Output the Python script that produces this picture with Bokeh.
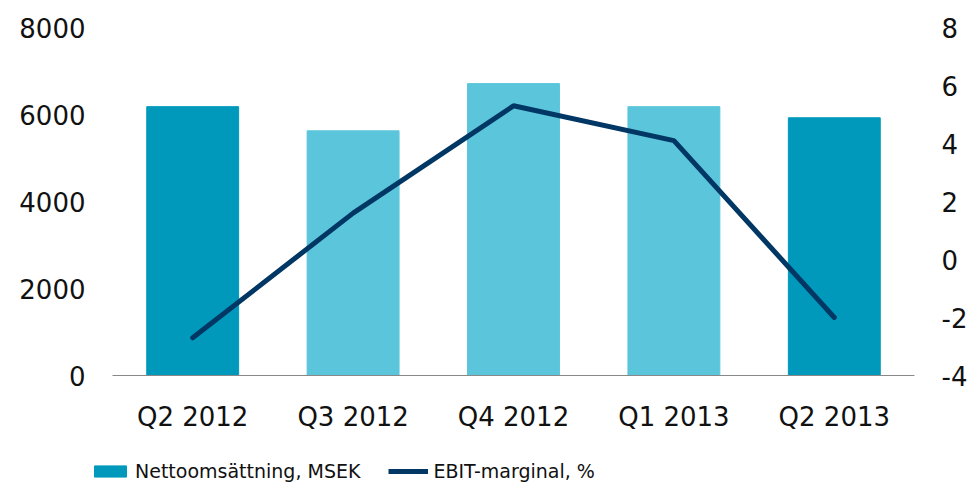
from bokeh.plotting import figure
from bokeh.models import (ColumnDataSource, Range1d, LinearAxis, FixedTicker,
                          Legend, LegendItem)
from bokeh.layouts import column, row
from bokeh.embed import file_html
from bokeh.resources import INLINE

quarters = ["Q2 2012", "Q3 2012", "Q4 2012", "Q1 2013", "Q2 2013"]
net_sales = [6180, 5625, 6710, 6180, 5925]
ebit_margin = [-2.7, 1.6, 5.3, 4.1, -2.0]
bar_colors = ["#0099bb", "#5bc5db", "#5bc5db", "#5bc5db", "#0099bb"]
left_ticks = [0, 2000, 4000, 6000, 8000]
right_ticks = [-4, -2, 0, 2, 4, 6, 8]
series_names = ["Nettoomsättning, MSEK", "EBIT-marginal, %"]

FONT = "DejaVu Sans"
BAR_DARK = "#0099bb"
LINE_COLOR = "#003764"
src = ColumnDataSource(dict(q=quarters, sales=net_sales, ebit=ebit_margin, color=bar_colors))

p = figure(x_range=quarters, y_range=Range1d(0, 8000), width=970, height=440,
           output_backend="svg", toolbar_location=None,
           min_border_left=112, min_border_right=55, min_border_top=27,
           min_border_bottom=65)
p.extra_y_ranges = {"pct": Range1d(-4, 8)}
p.outline_line_color = None
p.background_fill_color = "white"
p.border_fill_color = "white"
p.xgrid.grid_line_color = None
p.ygrid.grid_line_color = None
p.x_range.range_padding = 0

p.vbar(x="q", top="sales", width=0.573, color="color", source=src)
p.line(x="q", y="ebit", y_range_name="pct", line_color=LINE_COLOR,
       line_width=5, line_cap="round", source=src)

def style_axis(ax, standoff):
    ax.major_tick_line_color = None
    ax.minor_tick_line_color = None
    ax.major_tick_out = 0
    ax.major_tick_in = 0
    ax.minor_tick_out = 0
    ax.minor_tick_in = 0
    ax.major_label_text_font = FONT
    ax.major_label_text_font_size = "26px"
    ax.major_label_text_color = "#111111"
    ax.major_label_standoff = standoff

la = p.yaxis[0]
la.ticker = FixedTicker(ticks=left_ticks)
la.axis_line_color = None
style_axis(la, 27)

ra = LinearAxis(y_range_name="pct", ticker=FixedTicker(ticks=right_ticks))
ra.axis_line_color = None
style_axis(ra, 27)
ra.major_label_overrides = {t: str(t) for t in right_ticks}
p.add_layout(ra, "right")

xa = p.xaxis[0]
xa.axis_line_color = "#888888"
xa.axis_line_width = 1
style_axis(xa, 26)

# legend strip below the chart (dummy renderers hold the legend swatches, outside the visible range)
lg = figure(width=970, height=44, x_range=Range1d(0, 1), y_range=Range1d(0, 1),
            output_backend="svg", toolbar_location=None,
            x_axis_type=None, y_axis_type=None,
            min_border_left=0, min_border_right=0, min_border_top=0, min_border_bottom=0)
lg.outline_line_color = None
lg.grid.visible = False
hidden = ColumnDataSource(dict(x=[-5, -4], y=[-5, -4]))
r_bar = lg.vbar(x="x", top="y", width=0.5, color=BAR_DARK, source=hidden)
r_line = lg.line(x="x", y="y", line_color=LINE_COLOR, line_width=5, source=hidden)

legend = Legend(items=[LegendItem(label=series_names[0], renderers=[r_bar]),
                       LegendItem(label=series_names[1], renderers=[r_line])],
                orientation="horizontal", location=(90, 2),
                glyph_width=40, glyph_height=14, label_standoff=5, spacing=28,
                padding=0, margin=0, border_line_color=None,
                background_fill_alpha=0,
                label_text_font=FONT, label_text_font_size="19px",
                label_text_color="#111111")
lg.add_layout(legend, "center")

open("out.html", "w").write(file_html(column(row(p), row(lg), spacing=0), INLINE))
